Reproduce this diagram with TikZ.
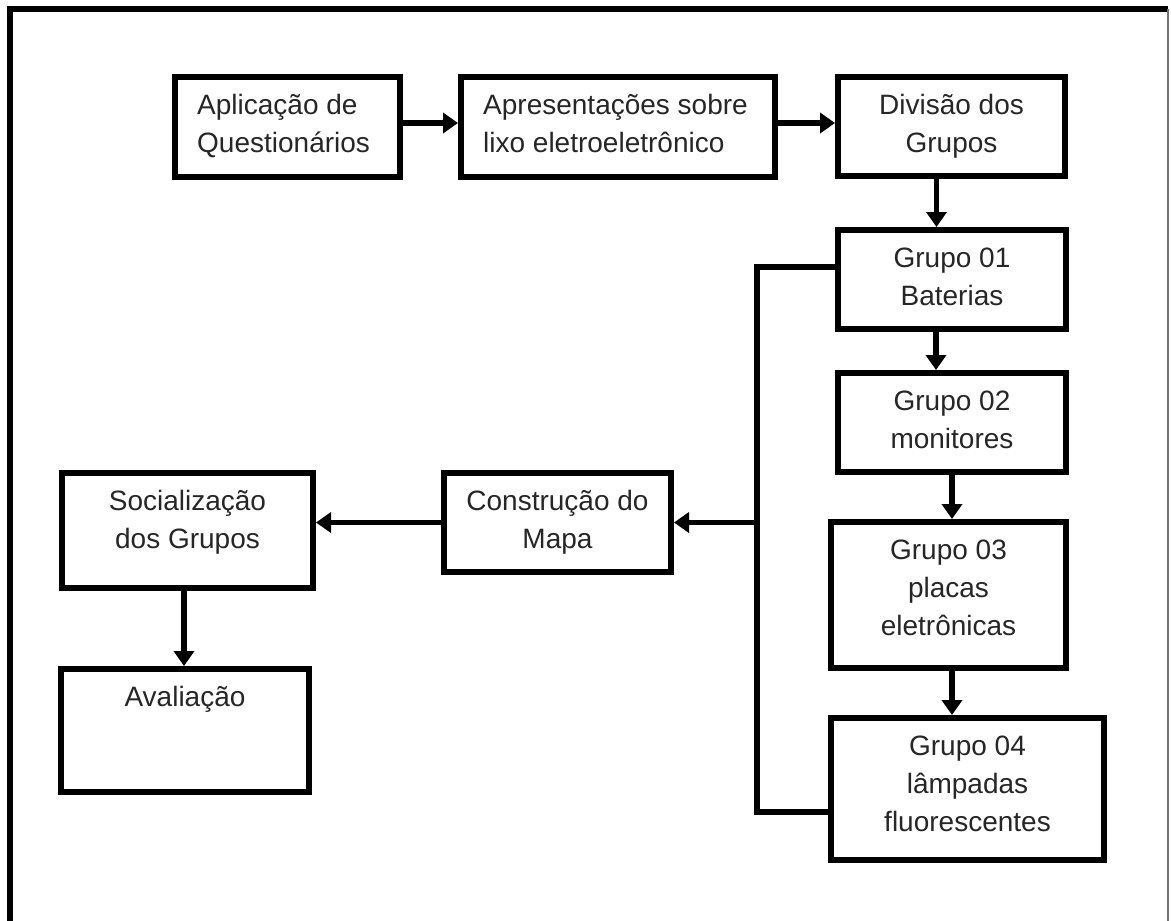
\documentclass[tikz,border=0pt]{standalone}
\usepackage{fontspec}
\setmainfont{Liberation Sans}
\usetikzlibrary{arrows.meta}
\tikzset{
  box/.style={draw, line width=6pt, rectangle, inner sep=0pt},
  lbl/.style={font=\fontsize{28}{38}\selectfont, text=black!85, inner sep=0pt, align=center, anchor=base},
  lbll/.style={lbl, align=left, anchor=base west},
  arr/.style={line width=5.5pt, -{Triangle[width=20pt,length=15pt]}},
  conn/.style={line width=6pt, line join=miter},
}
\begin{document}
\begin{tikzpicture}[x=1pt,y=-1pt]
\useasboundingbox (0,0) rectangle (1171,921);
% frame
\draw[line width=6pt] (10,921) -- (10,9) -- (1168,9);
\draw[line width=1.5pt, black!55] (1168,9) -- (1168,921);
% boxes
\node[box, minimum width=225pt, minimum height=100pt] (q)  at (287.5,127) {};
\node[box, minimum width=314pt, minimum height=100pt] (a)  at (618,127) {};
\node[box, minimum width=227pt, minimum height=99pt]  (d)  at (951.5,126.5) {};
\node[box, minimum width=228pt, minimum height=99pt]  (g1) at (952,279.5) {};
\node[box, minimum width=228pt, minimum height=99pt]  (g2) at (952,422.5) {};
\node[box, minimum width=235pt, minimum height=146pt] (g3) at (948.5,595) {};
\node[box, minimum width=273pt, minimum height=142pt] (g4) at (967.5,789) {};
\node[box, minimum width=227pt, minimum height=99pt]  (c)  at (557.5,522.5) {};
\node[box, minimum width=251pt, minimum height=115pt] (s)  at (187.5,530.5) {};
\node[box, minimum width=248pt, minimum height=123pt] (av) at (185,730.5) {};
% texts (one node per line, on baselines)
\node[lbll] (tq1) at ([xshift=25pt,yshift=-40pt]q.north west) {Aplicação de};
\node[lbll] (tq2) at ([yshift=-38pt]tq1.base west) {Questionários};
\node[lbll] (ta1) at ([xshift=25pt,yshift=-40pt]a.north west) {Apresentações sobre};
\node[lbll] (ta2) at ([yshift=-38pt]ta1.base west) {lixo eletroeletrônico};
\node[lbl] (td1) at ([yshift=-40pt]d.north) {Divisão dos};
\node[lbl] (td2) at ([yshift=-38pt]td1.base) {Grupos};
\node[lbl] (tg11) at ([yshift=-40pt]g1.north) {Grupo 01};
\node[lbl] (tg12) at ([yshift=-38pt]tg11.base) {Baterias};
\node[lbl] (tg21) at ([yshift=-40pt]g2.north) {Grupo 02};
\node[lbl] (tg22) at ([yshift=-38pt]tg21.base) {monitores};
\node[lbl] (tg31) at ([yshift=-40pt]g3.north) {Grupo 03};
\node[lbl] (tg32) at ([yshift=-38pt]tg31.base) {placas};
\node[lbl] (tg33) at ([yshift=-38pt]tg32.base) {eletrônicas};
\node[lbl] (tg41) at ([yshift=-40pt]g4.north) {Grupo 04};
\node[lbl] (tg42) at ([yshift=-38pt]tg41.base) {lâmpadas};
\node[lbl] (tg43) at ([yshift=-38pt]tg42.base) {fluorescentes};
\node[lbl] (tc1) at ([yshift=-40pt]c.north) {Construção do};
\node[lbl] (tc2) at ([yshift=-38pt]tc1.base) {Mapa};
\node[lbl] (ts1) at ([yshift=-40pt]s.north) {Socialização};
\node[lbl] (ts2) at ([yshift=-38pt]ts1.base) {dos Grupos};
\node[lbl] (tav) at ([yshift=-40pt]av.north) {Avaliação};
% connectors
\draw[arr] ([yshift=4pt]q.east) -- ([yshift=4pt]q.east -| a.west);
\draw[arr] ([yshift=4pt]a.east) -- ([yshift=4pt]a.east -| d.west);
\draw[arr] ([xshift=-15pt]d.south) -- ([xshift=-15pt]d.south |- g1.north);
\draw[arr] ([xshift=-16pt]g1.south) -- ([xshift=-16pt]g1.south |- g2.north);
\draw[arr] (g2.south) -- (g2.south |- g3.north);
\draw[arr] (g2.south |- g3.south) -- (g2.south |- g4.north);
\coordinate (bt) at (757,267);
\coordinate (bb) at (757,812);
\coordinate (jn) at (757,522.5);
\draw[conn] (bt -| g1.west) -- (bt) -- (bb) -- (bb -| g4.west);
\draw[arr] (jn) -- (jn -| c.east);
\draw[arr] (c.west) -- (c.west -| s.east);
\draw[arr] ([xshift=-3.5pt]s.south) -- ([xshift=-3.5pt]s.south |- av.north);
\end{tikzpicture}
\end{document}
